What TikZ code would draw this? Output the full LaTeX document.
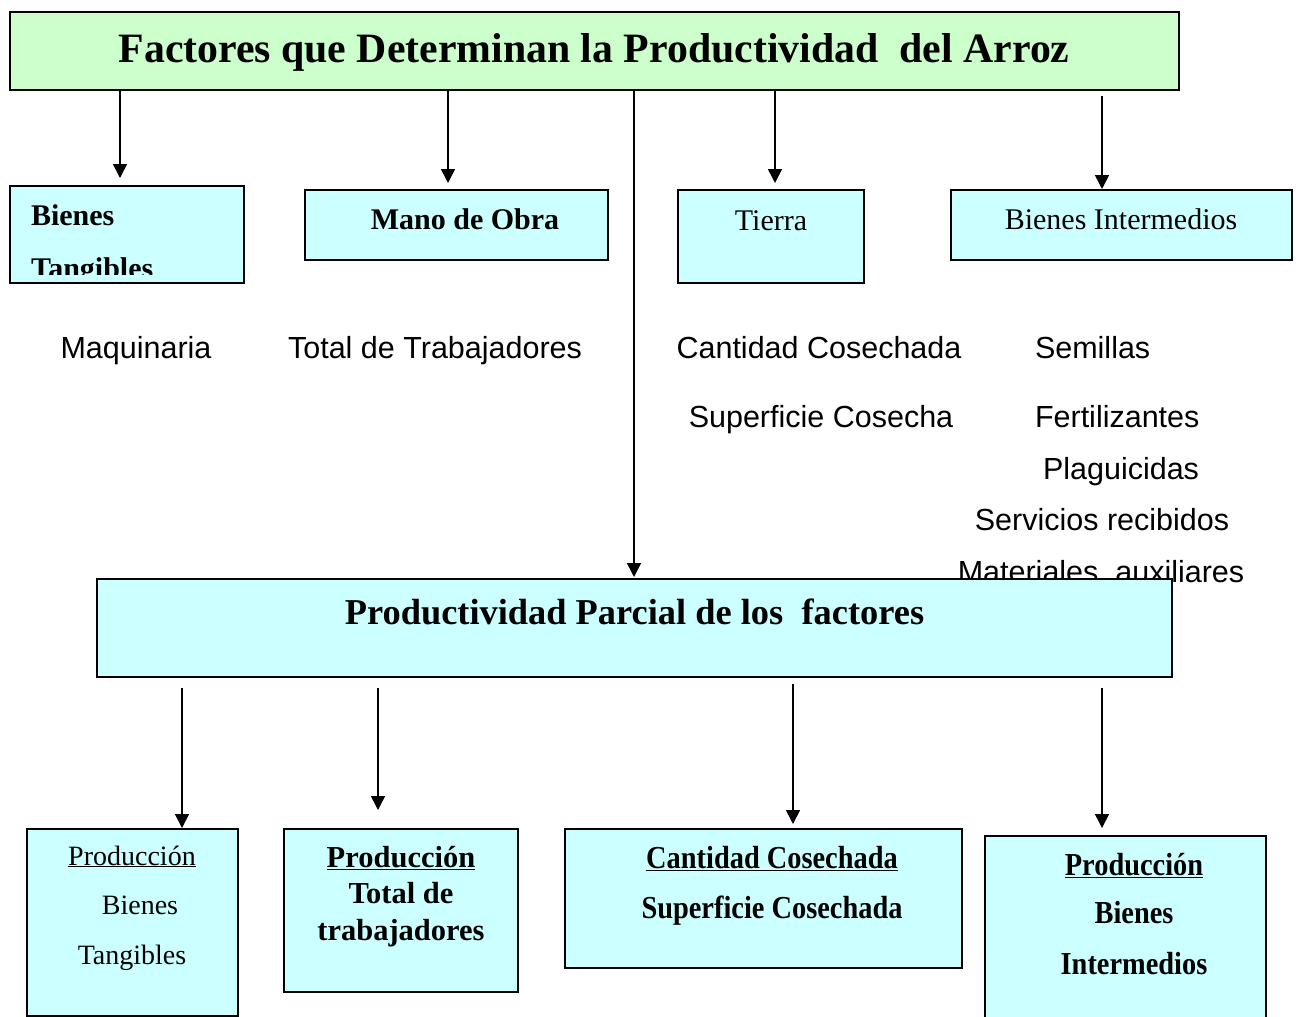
\documentclass[tikz,border=0pt]{standalone}
\usepackage{fontspec}
\usepackage{graphicx}
\setmainfont{Liberation Serif}
\newfontfamily\arialf{Liberation Sans}
\usetikzlibrary{arrows.meta}
\definecolor{cyanbg}{HTML}{CCFFFF}
\definecolor{greenbg}{HTML}{CCFFCC}
\tikzset{
  box/.style={draw=black, line width=1.5pt, fill=cyanbg, inner sep=0pt, outer sep=0pt},
  arr/.style={line width=1.6pt, -{Triangle[length=14pt,width=14pt]}},
  lbl/.style={inner sep=0pt, outer sep=0pt, anchor=base},
  ar/.style={lbl, font=\arialf\fontsize{30.5}{36}\selectfont},
  tr/.style={lbl, font=\fontsize{30}{36}\selectfont},
  tb/.style={lbl, font=\bfseries\fontsize{30}{36}\selectfont},
  br/.style={lbl, font=\fontsize{28}{34}\selectfont},
  bb/.style={lbl, font=\bfseries\fontsize{30.5}{36}\selectfont},
  bc/.style={lbl, font=\bfseries\fontsize{32}{38}\selectfont},
}
\begin{document}
\begin{tikzpicture}[x=1pt,y=-1pt]
\useasboundingbox[fill=white] (0,0) rectangle (1296,1017);

% title
\node[box, fill=greenbg, minimum width=1169pt, minimum height=78pt] (title) at (594.5,51) {};
\node[lbl, font=\bfseries\fontsize{41.8}{48}\selectfont] (titlet) at (594,62) {Factores que Determinan la Productividad\ \ del Arroz};

% top boxes
\node[box, minimum width=234pt, minimum height=97pt] (bt) at (127,234.5) {};
\node[box, minimum width=303pt, minimum height=70pt] (mo) at (456.5,225) {};
\node[box, minimum width=186pt, minimum height=93pt] (ti) at (771,236.5) {};
\node[box, minimum width=341pt, minimum height=70pt] (bi) at (1121.5,225) {};

\node[tb, anchor=base west] (btt1) at (31,225) {Bienes};
\begin{scope}
  \clip (10,186) rectangle (244,274);
  \node[tb, anchor=base west] (btt2) at (31,278) {Tangibles};
\end{scope}
\node[tb] (mot) at (465,229) {Mano de Obra};
\node[tr] (tit) at (771,230) {Tierra};
\node[tr] (bit) at (1121,229) {Bienes Intermedios};

% plain texts
\node[ar] (maq) at (136,358) {Maquinaria};
\node[ar] (ttr) at (435,358) {Total de Trabajadores};
\node[ar] (cco) at (819,358) {Cantidad Cosechada};
\node[ar] (sco) at (821,427) {Superficie Cosecha};
\node[ar, anchor=base west] (sem) at (1035,358) {Semillas};
\node[ar, anchor=base west] (fer) at (1035,427) {Fertilizantes};
\node[ar] (pla) at (1121,479) {Plaguicidas};
\node[ar] (ser) at (1102,530) {Servicios recibidos};
\node[ar] (mat) at (1101,582) {Materiales\ \ auxiliares};

% productividad parcial
\node[box, minimum width=1075pt, minimum height=98pt] (pp) at (634.5,628) {};
\node[lbl, font=\bfseries\fontsize{36.4}{42}\selectfont] (ppt) at (634.5,624) {Productividad Parcial de los\ \ factores};

% bottom boxes
\node[box, minimum width=211pt, minimum height=187pt] (b1) at (132.5,922.5) {};
\node[box, minimum width=234pt, minimum height=163pt] (b2) at (401,910.5) {};
\node[box, minimum width=397pt, minimum height=139pt] (b3) at (763.5,898.5) {};
\node[box, minimum width=281pt, minimum height=194pt] (b4) at (1125.5,933) {};

\node[br] (b1t1) at (132,865) {\underline{Producción}};
\node[br] (b1t2) at (140,914) {Bienes};
\node[br] (b1t3) at (132,964) {Tangibles};

\node[bb] (b2t1) at (401,867) {\underline{Producción}};
\node[bb] (b2t2) at (401,903) {Total de};
\node[bb] (b2t3) at (401,940) {trabajadores};

\node[bc] (b3t1) at (772,868) {\scalebox{0.887}[1]{\underline{Cantidad Cosechada}}};
\node[bc] (b3t2) at (772,918) {\scalebox{0.887}[1]{Superficie Cosechada}};

\node[bc] (b4t1) at (1134,875) {\scalebox{0.887}[1]{\underline{Producción}}};
\node[bc] (b4t2) at (1134,923) {\scalebox{0.887}[1]{Bienes}};
\node[bc] (b4t3) at (1134,974) {\scalebox{0.887}[1]{Intermedios}};

% arrow coordinates
\coordinate (a1e) at (120,178);
\coordinate (a2e) at (448,183);
\coordinate (a3e) at (775,183);
\coordinate (a4s) at (1102,96);
\coordinate (a4e) at (1102,189);
\coordinate (ame) at (634,577);
\coordinate (c1s) at (182,688); \coordinate (c1e) at (182,828);
\coordinate (c2s) at (378,688); \coordinate (c2e) at (378,810);
\coordinate (c3s) at (793,684); \coordinate (c3e) at (793,824);
\coordinate (c4s) at (1102,688); \coordinate (c4e) at (1102,828);

\draw[arr] (title.south -| a1e) -- (a1e);
\draw[arr] (title.south -| a2e) -- (a2e);
\draw[arr] (title.south -| a3e) -- (a3e);
\draw[arr] (a4s) -- (a4e);
\draw[arr] (title.south -| ame) -- (ame);
\draw[arr] (c1s) -- (c1e);
\draw[arr] (c2s) -- (c2e);
\draw[arr] (c3s) -- (c3e);
\draw[arr] (c4s) -- (c4e);
\end{tikzpicture}
\end{document}
